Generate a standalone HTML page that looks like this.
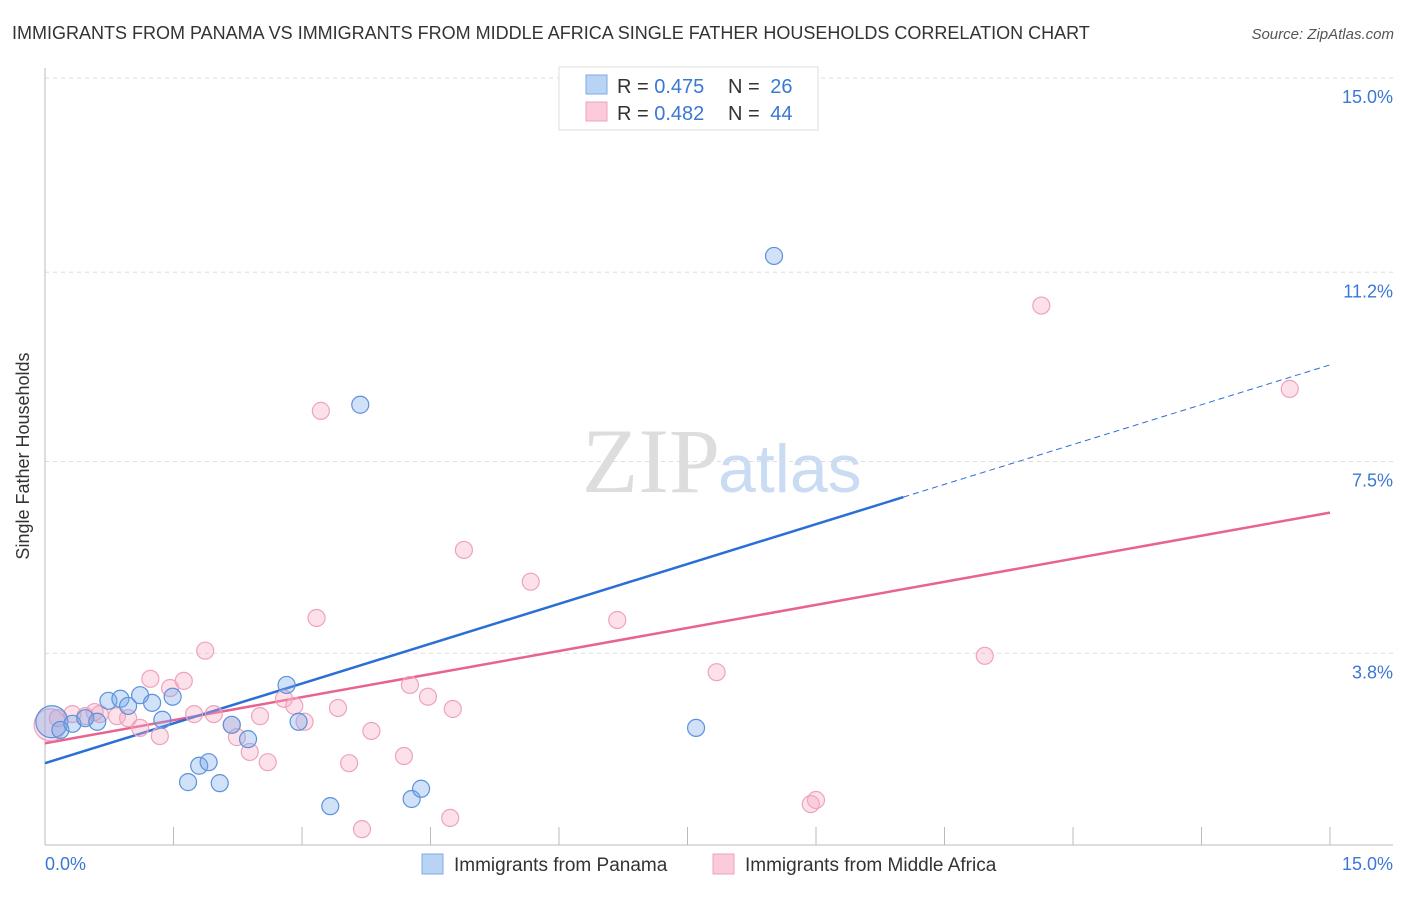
<!DOCTYPE html>
<html><head><meta charset="utf-8"><style>
body{margin:0;background:#fff;font-family:"Liberation Sans",sans-serif;}
svg text{font-family:"Liberation Sans",sans-serif;}
</style></head><body>
<svg id="chart" width="1406" height="892" xmlns="http://www.w3.org/2000/svg">
<text x="12" y="39" font-size="18" fill="#333">IMMIGRANTS FROM PANAMA VS IMMIGRANTS FROM MIDDLE AFRICA SINGLE FATHER HOUSEHOLDS CORRELATION CHART</text>
<text x="1394" y="39" font-size="15" fill="#555" font-style="italic" text-anchor="end">Source: ZipAtlas.com</text>
<text x="720" y="492" font-size="92" fill="#ddd" text-anchor="end" font-family="Liberation Serif" style="font-family:'Liberation Serif',serif">ZIP</text>
<text x="718" y="492" font-size="68" fill="#c9dcf3">atlas</text>
<g id="grid"></g>
<g id="axes"></g>
<g id="lines"></g>
<g id="points"></g>
<text x="29" y="456" font-size="18" fill="#333" text-anchor="middle" transform="rotate(-90 29 456)">Single Father Households</text>
<text x="45" y="870" font-size="18" fill="#3a78d4">0.0%</text>
<text x="1393" y="870" font-size="18" fill="#3a78d4" text-anchor="end">15.0%</text>
<g>
<rect x="559" y="67" width="259" height="63" fill="#fff" stroke="#ddd"/>
<rect x="586" y="75" width="21" height="19" fill="#b9d3f5" stroke="#7eaae6"/>
<rect x="586" y="102" width="21" height="19" fill="#fbcbd9" stroke="#eea3bc"/>
<text x="617" y="93" font-size="20" fill="#333">R = <tspan fill="#3a78d4">0.475</tspan></text>
<text x="728" y="93" font-size="20" fill="#333">N = <tspan fill="#3a78d4" dx="5">26</tspan></text>
<text x="617" y="120" font-size="20" fill="#333">R = <tspan fill="#3a78d4">0.482</tspan></text>
<text x="728" y="120" font-size="20" fill="#333">N = <tspan fill="#3a78d4" dx="5">44</tspan></text>
</g>
<g>
<rect x="422" y="854" width="21" height="20" fill="#b9d3f5" stroke="#7eaae6"/>
<text x="454" y="871" font-size="19" fill="#333">Immigrants from Panama</text>
<rect x="713" y="854" width="21" height="20" fill="#fbcbd9" stroke="#eea3bc"/>
<text x="745" y="871" font-size="19" fill="#333">Immigrants from Middle Africa</text>
</g>
</svg>
<script>
const yTicks=[3.8,7.5,11.2,15.0];
const yTickLabels=["3.8%","7.5%","11.2%","15.0%"];
const panamaX=[0.08,0.18,0.32,0.47,0.61,0.74,0.88,0.97,1.11,1.25,1.37,1.49,1.67,1.80,1.91,2.04,2.18,2.37,2.82,2.96,3.33,3.68,4.28,4.39,7.60,8.51];
const panamaY=[2.41,2.25,2.37,2.48,2.41,2.82,2.86,2.72,2.93,2.78,2.45,2.90,1.23,1.55,1.62,1.21,2.35,2.07,3.13,2.41,0.76,8.61,0.90,1.10,2.29,11.52];
const africaX=[0.06,0.15,0.32,0.47,0.58,0.64,0.84,0.97,1.11,1.23,1.34,1.46,1.62,1.74,1.87,1.97,2.18,2.24,2.39,2.51,2.60,2.79,2.91,3.03,3.17,3.22,3.42,3.55,3.70,3.81,4.19,4.26,4.47,4.73,4.76,4.89,5.67,6.68,7.84,8.94,9.00,10.97,11.63,14.53];
const africaY=[2.35,2.48,2.56,2.52,2.60,2.56,2.52,2.48,2.29,3.25,2.13,3.07,3.21,2.56,3.80,2.56,2.35,2.11,1.82,2.52,1.62,2.86,2.72,2.41,4.44,8.49,2.68,1.60,0.31,2.23,1.74,3.13,2.90,0.53,2.66,5.77,5.15,4.40,3.38,0.80,0.88,3.70,10.55,8.92];
const panamaTrend=[1.60,9.39];
const africaTrend=[1.99,6.50];
const panamaSolidEnd=10.02;

const NS="http://www.w3.org/2000/svg";
const X0=45,X1=1330,Y0=845,YTOP=78;
const sx=v=>X0+(v/15)*(X1-X0);
const sy=v=>Y0-(v/15)*(Y0-YTOP);
function mk(tag,attrs,parent){const e=document.createElementNS(NS,tag);for(const k in attrs)e.setAttribute(k,attrs[k]);parent.appendChild(e);return e;}
const grid=document.getElementById('grid'),axes=document.getElementById('axes'),lines=document.getElementById('lines'),pts=document.getElementById('points');
yTicks.forEach((t,i)=>{
  const g=mk('line',{x1:X0,x2:1393,y1:sy(t===3.8?3.75:t),y2:sy(t===3.8?3.75:t),stroke:'#ddd','stroke-dasharray':'4,4'},grid);
  
  
  const l=mk('text',{x:1393,y:sy(t===3.8?3.75:t)+25,'font-size':18,fill:'#3a78d4','text-anchor':'end'},grid);
  l.textContent=yTickLabels[i];
  
  
});
const ya=mk('line',{x1:X0,x2:X0,y1:68,y2:Y0,stroke:'#bbb'},axes);


const xa=mk('line',{x1:X0,x2:1393,y1:Y0,y2:Y0,stroke:'#bbb'},axes);


for(let i=1;i<=10;i++){
  const t=mk('line',{x1:sx(i*1.5),x2:sx(i*1.5),y1:Y0-18,y2:Y0,stroke:'#bbb'},axes);
  
  
}
const ty=(tr,x)=>tr[0]+(tr[1]-tr[0])*x/15;
const pl=mk('line',{x1:sx(0),y1:sy(ty(africaTrend,0)),x2:sx(15),y2:sy(ty(africaTrend,15)),stroke:'#e8638f','stroke-width':2.5},lines);


const bl=mk('line',{x1:sx(0),y1:sy(ty(panamaTrend,0)),x2:sx(panamaSolidEnd),y2:sy(ty(panamaTrend,panamaSolidEnd)),stroke:'#2a6fd6','stroke-width':2.5},lines);


const bd=mk('line',{x1:sx(panamaSolidEnd),y1:sy(ty(panamaTrend,panamaSolidEnd)),x2:sx(15),y2:sy(ty(panamaTrend,15)),stroke:'#2a6fd6','stroke-width':1,'stroke-dasharray':'6,4'},lines);


africaX.forEach((x,i)=>{
  const c=mk('circle',{cx:sx(x),cy:sy(africaY[i]),r:i===0?16:8.5,fill:'rgba(246,170,196,0.35)',stroke:'#eea3bc','stroke-width':1.2},pts);
  
  
});
panamaX.forEach((x,i)=>{
  const c=mk('circle',{cx:sx(x),cy:sy(panamaY[i]),r:i===0?16:8.5,fill:'rgba(120,170,235,0.35)',stroke:'#5b92dc','stroke-width':1.2},pts);
  
  
});
</script>
</body></html>
